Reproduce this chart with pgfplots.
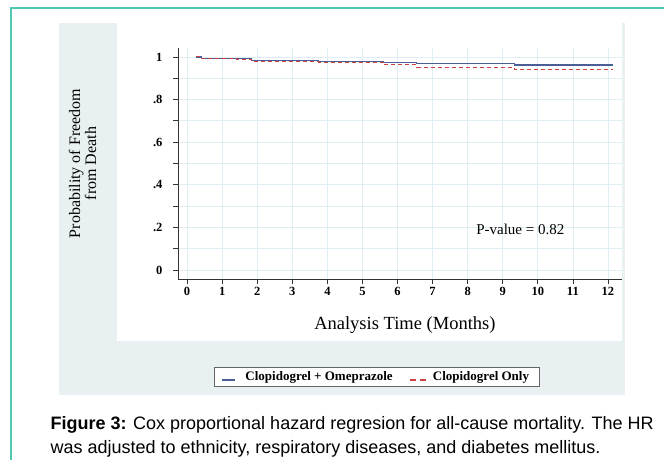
\documentclass[border=0pt]{standalone}
\usepackage{fontspec}
\setmainfont{Liberation Serif}
\newfontfamily\capfont{Liberation Sans}
\usepackage{pgfplots}
\pgfplotsset{compat=1.18}
\definecolor{borderteal}{RGB}{78,201,176}
\definecolor{panel}{RGB}{233,240,242}
\definecolor{gridc}{RGB}{222,238,242}
\definecolor{kmblue}{RGB}{75,95,150}
\definecolor{kmred}{RGB}{205,65,65}
\begin{document}
\begin{tikzpicture}
\fill[white] (0pt,0pt) rectangle (664pt,-460pt);
\useasboundingbox (0pt,0pt) rectangle (664pt,-460pt);
\fill[panel] (59pt,-23pt) rectangle (625pt,-395pt);
\fill[white] (117pt,-23pt) rectangle (622pt,-341pt);
\draw[borderteal, line width=2pt] (11pt,-460pt) -- (11pt,-8pt) -- (664pt,-8pt);
\begin{axis}[
  at={(178pt,-279pt)}, anchor=south west,
  scale only axis, width=444pt, height=231pt,
  xmin=-0.26, xmax=12.4, ymin=-0.042, ymax=1.042,
  axis x line*=bottom, axis y line*=left,
  axis line style={black!80, line width=1pt, -},
  xtick={0,1,...,12},
  ytick={0,0.2,0.4,0.6,0.8,1}, yticklabels={0,.2,.4,.6,.8,1},
  minor ytick={0.1,0.3,0.5,0.7,0.9},
  grid=both,
  major grid style={gridc, line width=0.8pt},
  minor grid style={gridc, line width=0.8pt},
  tick align=outside, major tick length=5pt, minor tick length=5pt,
  tick style={black!80, line width=0.8pt},
  /pgf/number format/assume math mode=true,
  tick label style={font=\bfseries\fontsize{12.5}{13}\selectfont},
  yticklabel style={xshift=-7pt},
  xlabel={Analysis Time (Months)},
  xlabel style={font=\fontsize{18.5}{20}\selectfont, at={(axis description cs:0.511,-0.199)}, anchor=center},
  ylabel={Probability of Freedom\\from Death},
  ylabel style={font=\fontsize{16}{16}\selectfont, align=center, at={(axis description cs:-0.215,0.50)}, anchor=center},
  legend columns=2,
  legend style={at={(axis description cs:0.447,-0.424)}, anchor=center,
    draw=black!60, fill=white, line width=0.6pt,
    font=\bfseries\fontsize{13}{14}\selectfont,
    inner xsep=8pt, inner ysep=2pt,
    /tikz/every even column/.append style={column sep=15pt}},
]
\addplot[kmblue, line width=1.2pt, const plot,
  legend image code/.code={\path[draw=none] (0pt,-3pt) -- (21pt,-3pt);
    \draw[kmblue, line width=1.2pt] (0pt,-3pt) -- (13pt,-3pt);}]
  coordinates {
  (0.25,1.000) (0.42,0.991) (1.84,0.983) (3.74,0.979) (5.60,0.975)
  (6.55,0.971) (9.33,0.962) (12.15,0.962)
};
\addlegendentry{Clopidogrel + Omeprazole}
\addplot[kmred, line width=1pt, const plot, dash pattern=on 4pt off 3pt,
  legend image code/.code={\draw[kmred, line width=1.2pt, dash pattern=on 6pt off 4pt] (0pt,-3pt) -- (20pt,-3pt);}]
  coordinates {
  (0.25,1.000) (0.42,0.991) (1.40,0.986) (1.84,0.977) (3.74,0.975)
  (5.60,0.963) (6.55,0.952) (9.33,0.943) (12.15,0.943)
};
\addlegendentry{Clopidogrel Only}
\node[font=\fontsize{15}{16}\selectfont] at (axis cs:9.5,0.19) {P-value = 0.82};
\end{axis}
\node[anchor=base west, font=\capfont\fontsize{18}{20}\selectfont] at (47pt,-429pt)
  {\textbf{Figure 3:} Cox proportional hazard regresion for all-cause mortality. The HR};
\node[anchor=base west, font=\capfont\fontsize{18}{20}\selectfont] at (47pt,-453pt)
  {was adjusted to ethnicity, respiratory diseases, and diabetes mellitus.};
\end{tikzpicture}
\end{document}
